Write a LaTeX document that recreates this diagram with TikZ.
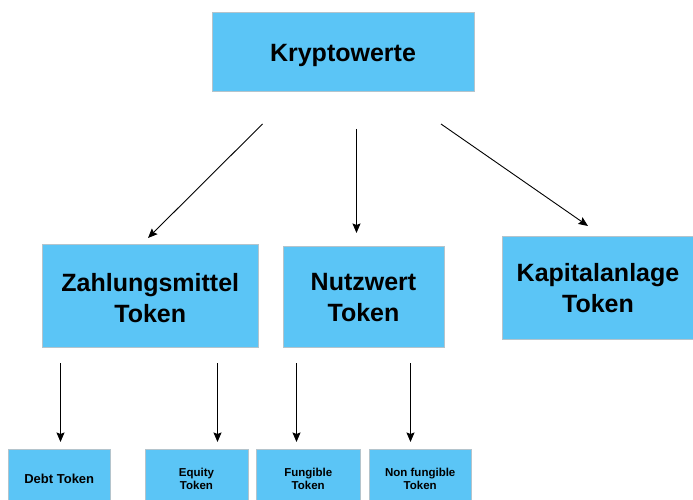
\documentclass[tikz,border=0pt]{standalone}
\usepackage{fontspec}
\setmainfont{Liberation Sans}
\usetikzlibrary{arrows.meta}
\definecolor{boxblue}{HTML}{5BC5F6}
\definecolor{boxedge}{HTML}{B4C4CC}
% lower a line of text without changing the size TikZ centres on
\newcommand{\droptext}[2]{\smash{\raisebox{-#1}{#2}}\vphantom{#2}}
\tikzset{
  card/.style={fill=boxblue, draw=boxedge, line width=0.5pt, inner sep=0pt,
    align=center, font=\bfseries},
  bigcard/.style={card, font=\fontsize{25}{31}\selectfont\bfseries},
  smallcard/.style={card, font=\fontsize{11.5}{12.7}\selectfont\bfseries},
  link/.style={line width=0.9pt, -{Stealth[length=9.5pt,width=8pt,inset=1.5pt]}}
}
\begin{document}
\begin{tikzpicture}[x=1pt,y=-1pt]
\useasboundingbox (0,0) rectangle (693,500);

% top level
\node[bigcard, minimum width=262pt, minimum height=79pt] (krypto) at (343,51.5) {\droptext{3.5pt}{Kryptowerte}};

% second level
\node[bigcard, minimum width=216.5pt, minimum height=103pt] (zahl) at (150.25,295.5) {\droptext{2.5pt}{Zahlungsmittel}\\\droptext{2.5pt}{Token}};
\node[bigcard, minimum width=161pt, minimum height=101pt] (nutz) at (363.5,296.5) {\droptext{1.5pt}{Nutzwert}\\\droptext{1.5pt}{Token}};
\node[bigcard, minimum width=192pt, minimum height=103pt] (kapital) at (598,287.5) {\droptext{1pt}{Kapitalanlage}\\\droptext{1pt}{Token}};

% third level (runs past the lower edge)
\node[smallcard, font=\fontsize{13}{14}\selectfont\bfseries, minimum width=102.5pt, minimum height=60pt] (debt) at (59.25,479) {Debt Token};
\node[smallcard, minimum width=103pt, minimum height=60pt] (equity) at (196.5,479) {Equity\\Token};
\node[smallcard, minimum width=104.5pt, minimum height=60pt] (fung) at (308.25,479) {Fungible\\Token};
\node[smallcard, minimum width=102.5pt, minimum height=60pt] (nonfung) at (420.25,479) {Non fungible\\Token};

% connector end points
\coordinate (kL) at (262.5,124);
\coordinate (kM) at (356.5,129);
\coordinate (kR) at (441,124);
\coordinate (zIn) at (148,238);
\coordinate (nIn) at (356.5,233);
\coordinate (cIn) at (588,226);

\coordinate (zL) at (60.5,363);
\coordinate (zR) at (217.5,363);
\coordinate (nL) at (296.5,363);
\coordinate (nR) at (410.5,363);
\coordinate (dIn) at (60.5,442);
\coordinate (eIn) at (217.5,442);
\coordinate (fIn) at (296.5,442);
\coordinate (gIn) at (410.5,442);

\draw[link] (kL) -- (zIn);
\draw[link] (kM) -- (nIn);
\draw[link] (kR) -- (cIn);

\draw[link] (zL) -- (dIn);
\draw[link] (zR) -- (eIn);
\draw[link] (nL) -- (fIn);
\draw[link] (nR) -- (gIn);
\end{tikzpicture}
\end{document}
